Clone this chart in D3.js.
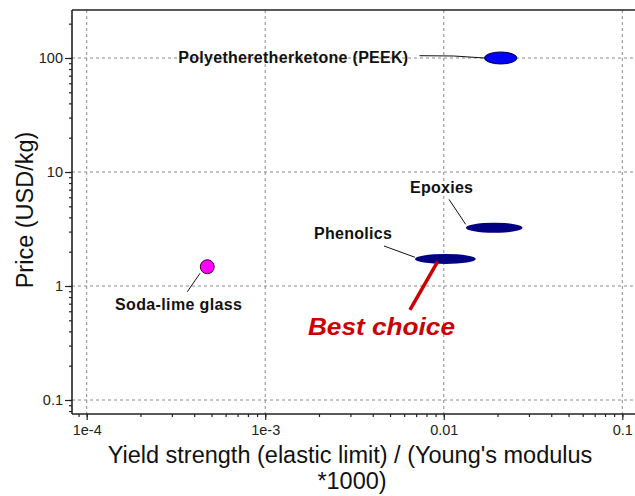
<!DOCTYPE html>
<html><head><meta charset="utf-8">
<script src="https://cdn.jsdelivr.net/npm/d3@7"></script>
<style>
html,body{margin:0;padding:0;background:#fff;}
svg{display:block;font-family:Arial,"Liberation Sans",sans-serif;}
</style></head>
<body>
<svg id="chart" width="635" height="496"></svg>
<script>
// ---- data ----
const materials = ["Polyetheretherketone (PEEK)", "Epoxies", "Phenolics", "Soda-lime glass"];
const xLow  = [0.0169, 0.0133, 0.0069, 0.000433];
const xHigh = [0.0257, 0.0276, 0.0151, 0.000518];
const yLow  = [88.6, 2.93, 1.56, 1.28];
const yHigh = [112.9, 3.59, 1.91, 1.70];
const xTicks = [1e-4, 1e-3, 0.01, 0.1];
const xTickLabels = ["1e-4", "1e-3", "0.01", "0.1"];
const yTicks = [0.1, 1, 10, 100];
const yTickLabels = ["0.1", "1", "10", "100"];
const xTitle = ["Yield strength (elastic limit) / (Young's modulus", "*1000)"];
const yTitle = "Price (USD/kg)";
const highlight = "Best choice";
const highlightIndex = 2;

// ---- styles / layout ----
const fills = ["#0000ff", "#000080", "#000080", "#ff00ff"];
const strokes = ["#000033", "none", "none", "#330033"];
const labelLayout = [
  {anchor:"end",   dx:-92.5, dy:4.7,  len:230, leader:[[-81.2,-2.3],[-47.2,-2],[-16.2,0]]},
  {anchor:"start", dx:-84.2, dy:-35,  len:63,  leader:[[-45.2,-28.4],[-28.5,-3.4]]},
  {anchor:"start", dx:-131.4,dy:-20,  len:78,  leader:[[-61.4,-13],[-30.4,-1.7]]},
  {anchor:"start", dx:-92.3, dy:43.3, len:127, leader:[[-20,25],[-7.3,6.6]]}
];
const L = 72, R = 635, T = 10, B = 414;

const svg = d3.select("#chart");
const x = d3.scaleLog().domain([1e-4, 0.1]).range([86.7, 622.3]);
const y = d3.scaleLog().domain([0.1, 100]).range([400, 58]);

// grid
const grid = svg.append("g").attr("stroke", "#8a8a8a").attr("stroke-width", 1).attr("stroke-dasharray", "3,3");
grid.selectAll("line.gx").data(xTicks).join("line")
  .attr("x1", d => x(d)).attr("x2", d => x(d)).attr("y1", T).attr("y2", B);
grid.selectAll("line.gy").data(yTicks).join("line")
  .attr("x1", L).attr("x2", R).attr("y1", d => y(d)).attr("y2", d => y(d));

// minor tick values
function minors(scale, lo, hi) {
  const out = [];
  for (let e = -6; e <= 4; e++) for (let m = 1; m <= 9; m++) {
    const v = m * Math.pow(10, e);
    const p = scale(v);
    if (p >= lo - 0.1 && p <= hi + 0.1) out.push(v);
  }
  return out;
}
const axisColor = "#222";
// x axis
const xAxisMinor = d3.axisBottom(x).tickValues(minors(x, L, R)).tickSize(3).tickSizeOuter(0).tickFormat("");
const gxm = svg.append("g").attr("transform", `translate(0,${B})`).call(xAxisMinor);
const xAxisMajor = d3.axisBottom(x).tickValues(xTicks).tickSize(6).tickSizeOuter(0).tickPadding(5)
  .tickFormat((d, i) => xTickLabels[i]);
const gx = svg.append("g").attr("transform", `translate(0,${B})`).call(xAxisMajor);
// y axis
const yAxisMinor = d3.axisLeft(y).tickValues(minors(y, T, B)).tickSize(3).tickSizeOuter(0).tickFormat("");
const gym = svg.append("g").attr("transform", `translate(${L},0)`).call(yAxisMinor);
const yAxisMajor = d3.axisLeft(y).tickValues(yTicks).tickSize(7).tickSizeOuter(0).tickPadding(2)
  .tickFormat((d, i) => yTickLabels[i]);
const gy = svg.append("g").attr("transform", `translate(${L},0)`).call(yAxisMajor);

[gxm, gx, gym, gy].forEach(g => {
  g.select(".domain").remove();
  g.selectAll(".tick line").attr("stroke", axisColor).attr("stroke-width", 1.2);
  g.selectAll(".tick text").attr("fill", "#222").style("font-size", "14.5px")
    .style("font-family", 'Arial,"Liberation Sans",sans-serif');
});
// frame lines
svg.append("line").attr("x1", L).attr("x2", R).attr("y1", B).attr("y2", B).attr("stroke", axisColor).attr("stroke-width", 1.6);
svg.append("line").attr("x1", L).attr("x2", L).attr("y1", T).attr("y2", B).attr("stroke", axisColor).attr("stroke-width", 1.6);
svg.append("line").attr("x1", L).attr("x2", R).attr("y1", T).attr("y2", T).attr("stroke", axisColor).attr("stroke-width", 1.6);

// marks
const recs = materials.map((name, i) => {
  const x0 = x(xLow[i]), x1 = x(xHigh[i]), y0 = y(yLow[i]), y1 = y(yHigh[i]);
  return {name, i, cx: (x0 + x1) / 2, cy: (y0 + y1) / 2, rx: Math.abs(x1 - x0) / 2, ry: Math.abs(y0 - y1) / 2};
});
svg.append("g").selectAll("ellipse").data(recs).join("ellipse")
  .attr("cx", d => d.cx).attr("cy", d => d.cy).attr("rx", d => d.rx).attr("ry", d => d.ry)
  .attr("fill", d => fills[d.i]).attr("stroke", d => strokes[d.i]).attr("stroke-width", 1);

// leaders & labels
const lineGen = d3.line();
recs.forEach(d => {
  const lay = labelLayout[d.i];
  svg.append("path").attr("d", lineGen(lay.leader.map(p => [d.cx + p[0], d.cy + p[1]])))
    .attr("fill", "none").attr("stroke", "#111").attr("stroke-width", 1);
  svg.append("text").attr("x", d.cx + lay.dx).attr("y", d.cy + lay.dy)
    .attr("text-anchor", lay.anchor).attr("textLength", lay.len).attr("lengthAdjust", "spacing")
    .style("font-size", "16px").style("font-weight", "bold").attr("fill", "#111").text(d.name);
});

// highlight
const h = recs[highlightIndex];
svg.append("line").attr("x1", h.cx - 35.4).attr("y1", h.cy + 51).attr("x2", h.cx - 7.7).attr("y2", h.cy + 2.7)
  .attr("stroke", "#cc0000").attr("stroke-width", 3.5);
svg.append("text").attr("x", h.cx - 137.4).attr("y", h.cy + 76).attr("textLength", 147).attr("lengthAdjust", "spacingAndGlyphs")
  .style("font-size", "24px").style("font-weight", "bold").style("font-style", "italic").attr("fill", "#cc0000").text(highlight);

// titles
const xt = svg.append("text").attr("text-anchor", "middle").style("font-size", "23.5px").attr("fill", "#111");
xt.append("tspan").attr("x", 350).attr("y", 463).text(xTitle[0]);
xt.append("tspan").attr("x", 352).attr("y", 489).text(xTitle[1]);
svg.append("text").attr("transform", "translate(33,210) rotate(-90)").attr("text-anchor", "middle")
  .style("font-size", "23.5px").attr("fill", "#111").text(yTitle);
</script>
</body></html>
